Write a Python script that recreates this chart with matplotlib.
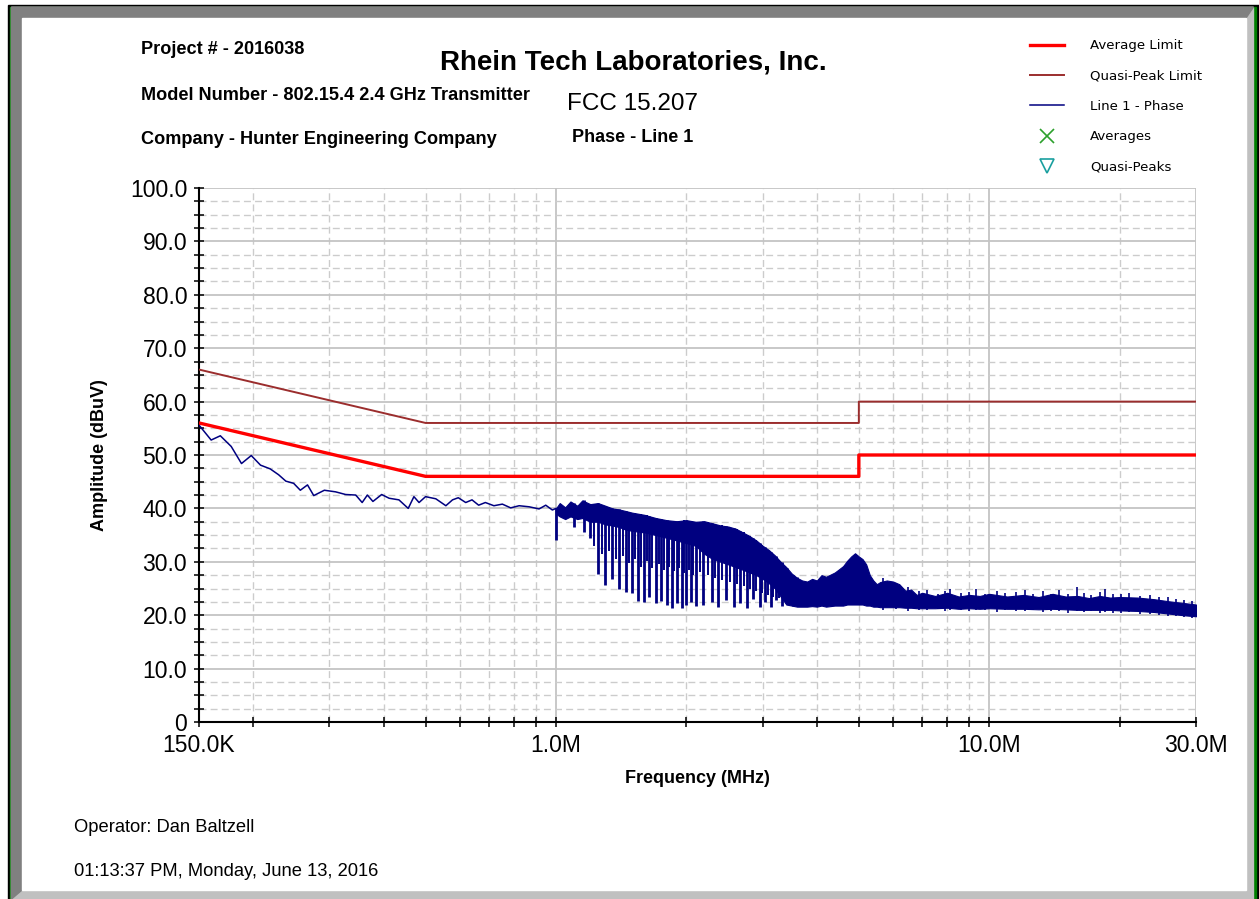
import matplotlib
matplotlib.use("Agg")
import matplotlib.pyplot as plt
from matplotlib.lines import Line2D
from matplotlib.patches import Rectangle, Polygon
from matplotlib.ticker import FixedLocator, FixedFormatter, NullFormatter, MultipleLocator

# limit lines (MHz, dBuV)
avg_limit_f = [0.15, 0.5, 5.0, 5.0, 30.0]
avg_limit_db = [56.0, 46.0, 46.0, 50.0, 50.0]
qp_limit_f = [0.15, 0.5, 5.0, 5.0, 30.0]
qp_limit_db = [66.0, 56.0, 56.0, 60.0, 60.0]

# measured trace below 1 MHz
low_f = [0.150, 0.160, 0.168, 0.178, 0.188, 0.198, 0.208, 0.219, 0.229, 0.238,
         0.248, 0.257, 0.267, 0.276, 0.292, 0.310, 0.327, 0.345, 0.357, 0.367,
         0.378, 0.396, 0.412, 0.434, 0.456, 0.470, 0.483, 0.500, 0.528, 0.557,
         0.577, 0.595, 0.619, 0.640, 0.663, 0.687, 0.719, 0.752, 0.786, 0.822,
         0.867, 0.914, 0.947, 0.981, 1.000]
low_db = [55.6, 52.8, 53.6, 51.6, 48.4, 49.9, 48.1, 47.4, 46.3, 45.1,
          44.7, 43.4, 44.4, 42.4, 43.4, 43.1, 42.6, 42.5, 41.1, 42.5,
          41.3, 42.6, 41.9, 41.6, 40.0, 42.2, 41.1, 42.2, 41.8, 40.5,
          41.6, 42.0, 41.1, 41.6, 40.6, 41.1, 40.5, 40.8, 40.1, 40.5,
          40.3, 39.9, 40.6, 39.7, 40.0]

# envelope of the dense part of the trace above 1 MHz
band_f = [1.00, 1.02, 1.05, 1.08, 1.12, 1.15, 1.20, 1.25, 1.30, 1.35,
          1.40, 1.45, 1.50, 1.60, 1.70, 1.80, 1.90, 2.00, 2.10, 2.20,
          2.30, 2.40, 2.50, 2.60, 2.70, 2.80, 2.90, 3.00, 3.10, 3.20,
          3.30, 3.40, 3.50, 3.60, 3.70, 3.80, 3.90, 4.00, 4.10, 4.20,
          4.30, 4.40, 4.50, 4.60, 4.70, 4.80, 4.90, 5.00, 5.10, 5.20,
          5.30, 5.40, 5.50, 5.60, 5.80, 6.00, 6.20, 6.40, 6.60, 6.80,
          7.00, 7.50, 8.00, 8.50, 9.00, 9.50, 10.0, 11.0, 12.0, 13.0,
          14.0, 15.0, 16.0, 17.0, 18.0, 19.0, 20.0, 22.0, 24.0, 26.0,
          28.0, 30.0]
band_hi = [40.0, 41.0, 40.2, 41.3, 40.5, 41.5, 40.8, 41.0, 40.5, 40.0,
           39.8, 39.5, 39.2, 38.8, 38.2, 37.8, 37.6, 37.8, 37.5, 37.6,
           37.2, 36.8, 36.6, 36.2, 35.5, 34.8, 34.0, 33.0, 32.2, 31.2,
           30.0, 29.0, 27.8, 27.0, 26.5, 26.3, 26.8, 26.5, 27.5, 27.2,
           27.6, 28.0, 28.6, 29.2, 30.2, 31.0, 31.6, 31.0, 30.5, 29.5,
           27.5, 26.5, 25.8, 26.2, 26.5, 26.3, 25.8, 24.6, 24.8, 23.8,
           24.2, 23.6, 24.2, 23.5, 23.8, 23.6, 24.0, 23.5, 23.8, 23.4,
           24.0, 23.5, 23.6, 23.2, 23.6, 23.3, 23.4, 23.3, 23.0, 22.6,
           22.3, 22.0]
band_lo = [39.0, 38.5, 38.0, 38.5, 38.0, 38.2, 37.5, 37.5, 37.0, 36.8,
           36.5, 36.0, 35.8, 35.5, 35.0, 34.5, 34.0, 33.5, 33.0, 31.5,
           30.5, 30.0, 29.5, 29.0, 28.5, 28.0, 27.5, 26.8, 26.0, 25.0,
           23.5, 22.0, 21.8, 21.6, 21.6, 21.6, 21.7, 21.6, 21.8, 21.6,
           21.7, 21.8, 21.8, 21.8, 22.0, 22.0, 22.0, 22.0, 22.0, 21.8,
           21.8, 21.6, 21.6, 21.5, 21.5, 21.5, 21.5, 21.4, 21.4, 21.3,
           21.3, 21.3, 21.4, 21.2, 21.3, 21.2, 21.3, 21.2, 21.2, 21.1,
           21.2, 21.1, 21.0, 21.0, 21.0, 21.0, 20.9, 20.8, 20.6, 20.3,
           20.0, 19.8]

# comb of deep dips between 1 and 3.6 MHz
comb_f = [1.00, 1.10, 1.16, 1.20, 1.25, 1.30, 1.35, 1.40, 1.45, 1.50,
          1.55, 1.60, 1.64, 1.70, 1.75, 1.80, 1.85, 1.90, 1.95, 2.00,
          2.05, 2.10, 2.19, 2.29, 2.37, 2.47, 2.57, 2.66, 2.76, 2.85,
          2.95, 3.04, 3.13, 3.22, 3.32, 3.42, 3.52, 3.59]
comb_lo = [34.1, 36.6, 35.6, 34.5, 27.8, 25.7, 26.8, 25.0, 24.4, 24.1,
           22.7, 22.5, 23.5, 22.2, 22.7, 21.9, 21.4, 22.2, 21.3, 21.9,
           22.4, 21.8, 21.9, 22.5, 21.6, 22.8, 21.5, 22.2, 21.4, 23.0,
           21.6, 22.4, 21.5, 22.9, 21.7, 22.2, 21.8, 22.0]
comb_hi = [40.0, 41.0, 41.5, 40.8, 41.0, 40.5, 40.0, 39.8, 39.5, 39.2,
           39.0, 38.8, 38.6, 38.2, 38.0, 37.8, 37.7, 37.6, 37.7, 37.8,
           37.6, 37.5, 37.6, 37.2, 36.9, 36.7, 36.3, 35.8, 35.1, 34.4,
           33.5, 32.7, 31.9, 31.0, 29.9, 28.8, 27.6, 27.1]

# shallower dips lying between the deep ones
comb2_f = [1.225, 1.275, 1.325, 1.375, 1.425, 1.475, 1.525, 1.575, 1.62, 1.67,
           1.725, 1.775, 1.825, 1.875, 1.925, 1.975, 2.025, 2.075, 2.145, 2.24,
           2.33, 2.42, 2.52, 2.61, 2.71, 2.80, 2.90, 2.99, 3.08, 3.17,
           3.27, 3.37]
comb2_lo = [33.0, 31.5, 32.0, 30.5, 31.0, 29.8, 30.5, 29.0, 30.2, 28.8,
            29.5, 28.4, 29.0, 28.2, 28.8, 27.9, 28.5, 27.6, 28.0, 27.5,
            27.0, 26.6, 26.2, 25.8, 25.4, 25.0, 24.6, 24.2, 23.8, 23.5,
            23.2, 22.8]
comb2_hi = [40.9, 40.7, 40.2, 39.9, 39.6, 39.3, 39.1, 38.9, 38.7, 38.4,
            38.1, 37.9, 37.7, 37.6, 37.7, 37.8, 37.7, 37.5, 37.5, 37.4,
            37.1, 36.8, 36.5, 36.1, 35.5, 34.8, 34.0, 33.1, 32.3, 31.4,
            30.3, 29.2]

# noise spikes on the floor above 5.5 MHz
floor_f = [5.7, 6.1, 6.5, 6.9, 7.2, 7.6, 7.9, 8.1, 8.6, 9.0,
           9.3, 9.8, 10.4, 10.9, 11.5, 12.1, 12.6, 13.3, 13.9, 14.5,
           15.2, 15.9, 16.5, 17.2, 18.0, 18.5, 19.3, 20.1, 21.0, 22.3,
           23.5, 24.6, 25.8, 27.0, 28.2, 29.3]
floor_hi = [27.0, 26.0, 25.2, 24.6, 24.8, 24.0, 24.5, 25.0, 24.2, 24.4,
            24.9, 24.0, 24.6, 24.1, 24.3, 24.8, 23.9, 24.5, 24.0, 24.7,
            24.0, 25.2, 24.1, 23.8, 24.3, 25.0, 24.0, 23.9, 24.2, 23.6,
            23.8, 23.4, 23.5, 23.0, 22.8, 22.6]
floor_lo = [21.0, 21.1, 20.8, 21.0, 20.9, 21.1, 20.8, 20.9, 21.0, 20.8,
            20.9, 21.0, 20.6, 20.9, 20.8, 20.7, 20.9, 20.6, 20.8, 20.7,
            20.5, 20.8, 20.6, 20.7, 20.5, 20.6, 20.5, 20.4, 20.6, 20.3,
            20.2, 20.0, 19.9, 19.8, 19.6, 19.4]

y_ticks = [0, 10, 20, 30, 40, 50, 60, 70, 80, 90, 100]
y_labels = ["0", "10.0", "20.0", "30.0", "40.0", "50.0", "60.0", "70.0", "80.0", "90.0", "100.0"]
x_ticks = [0.15, 1.0, 10.0, 30.0]
x_labels = ["150.0K", "1.0M", "10.0M", "30.0M"]
x_minor = [0.2, 0.3, 0.4, 0.5, 0.6, 0.7, 0.8, 0.9,
           2, 3, 4, 5, 6, 7, 8, 9, 20]

NAVY = "#000080"
RED = "#ff0000"
QP = "#9b2d2d"
FONT = "Liberation Sans"
W, H = 1259, 899

plt.rcParams["font.family"] = [FONT, "DejaVu Sans"]
fig = plt.figure(figsize=(W / 100, H / 100), dpi=100)

# window frame, drawn in pixel coordinates
bg = fig.add_axes([0, 0, 1, 1], zorder=0)
bg.set_xlim(0, W)
bg.set_ylim(H, 0)
bg.axis("off")
bg.add_patch(Rectangle((8, 5), W - 8, H - 5, color="black"))
bg.add_patch(Rectangle((10, 6.5), 1246.5, H - 6.5, color="#008000"))
bg.add_patch(Rectangle((11.5, 7), 1242, H - 7, color="#c0c0c0"))
bg.add_patch(Polygon([(11.5, 7), (1253.5, 7), (1246, 18), (22, 18), (22, 890), (11.5, 899)],
                     closed=True, color="#808080"))
bg.add_patch(Rectangle((22, 18), 1224, 872, color="white"))

bold = dict(fontweight="bold", color="black")
bg.text(141, 49, "Project # - 2016038", fontsize=13.1, va="center", **bold)
bg.text(141, 95, "Model Number - 802.15.4 2.4 GHz Transmitter", fontsize=13.1, va="center", **bold)
bg.text(141, 140, "Company - Hunter Engineering Company", fontsize=13.1, va="center", **bold)
bg.text(633, 62, "Rhein Tech Laboratories, Inc.", fontsize=20, ha="center", va="center", **bold)
bg.text(633, 104, "FCC 15.207", fontsize=17.5, ha="center", va="center")
bg.text(633, 137, "Phase - Line 1", fontsize=13, ha="center", va="center", **bold)
bg.text(74, 828, "Operator: Dan Baltzell", fontsize=13.2, va="center")
bg.text(74, 871, "01:13:37 PM, Monday, June 13, 2016", fontsize=13.2, va="center")

ax = fig.add_axes([199 / W, 1 - 722 / H, 997 / W, 534 / H], zorder=1)
ax.set_facecolor("white")
ax.set_xscale("log")

l_avg, = ax.plot(avg_limit_f, avg_limit_db, color=RED, lw=2.4, zorder=4)
l_qp, = ax.plot(qp_limit_f, qp_limit_db, color=QP, lw=1.4, zorder=4)
l_trace, = ax.plot(low_f, low_db, color=NAVY, lw=1.1, zorder=3)
ax.fill_between(band_f, band_lo, band_hi, color=NAVY, lw=0.8, zorder=3)
ax.vlines(comb_f, comb_lo, comb_hi, color=NAVY, lw=2.0, zorder=3)
ax.vlines(comb2_f, comb2_lo, comb2_hi, color=NAVY, lw=1.4, zorder=3)
ax.vlines(floor_f, floor_lo, floor_hi, color=NAVY, lw=1.2, zorder=3)

ax.set_xlim(0.15, 30)
ax.set_ylim(0, 100)

ax.xaxis.set_major_locator(FixedLocator(x_ticks))
ax.xaxis.set_major_formatter(FixedFormatter(x_labels))
ax.xaxis.set_minor_locator(FixedLocator(x_minor))
ax.xaxis.set_minor_formatter(NullFormatter())
ax.yaxis.set_major_locator(FixedLocator(y_ticks))
ax.yaxis.set_major_formatter(FixedFormatter(y_labels))
ax.yaxis.set_minor_locator(MultipleLocator(2.5))

ax.grid(which="major", color="#c4c4c4", lw=1.3, ls="-", zorder=0)
ax.grid(which="minor", color="#cccccc", lw=1.0, ls=(0, (5, 3)), zorder=0)
ax.set_axisbelow(True)

for side in ("top", "right"):
    ax.spines[side].set_visible(False)
for side in ("left", "bottom"):
    ax.spines[side].set_linewidth(1.5)

ax.tick_params(which="both", direction="inout", length=7, width=1.1, color="black")
ax.tick_params(axis="y", which="major", labelsize=16.5, pad=5)
ax.tick_params(axis="x", which="major", labelsize=16.5, pad=5.5)

ax.set_xlabel("Frequency (MHz)", fontsize=13, fontweight="bold", labelpad=9)
ax.set_ylabel("Amplitude (dBuV)", fontsize=13, fontweight="bold", labelpad=16)

# legend in the top right corner
avg_mark = Line2D([], [], ls="none", marker="x", ms=10, mew=1.2, color="#2ca02c")
qp_mark = Line2D([], [], ls="none", marker="v", ms=10, mew=1.2, mfc="none", mec="#1a9f9f")
fig.legend([l_avg, l_qp, l_trace, avg_mark, qp_mark],
           ["Average Limit", "Quasi-Peak Limit", "Line 1 - Phase", "Averages", "Quasi-Peaks"],
           loc="upper left", bbox_to_anchor=(1025 / W, 1 - 34 / H), frameon=False,
           prop={"family": "DejaVu Sans", "size": 9.6}, handlelength=2.5,
           handletextpad=2.0, labelspacing=1.3, borderaxespad=0)

fig.savefig("out.png", dpi=100)
